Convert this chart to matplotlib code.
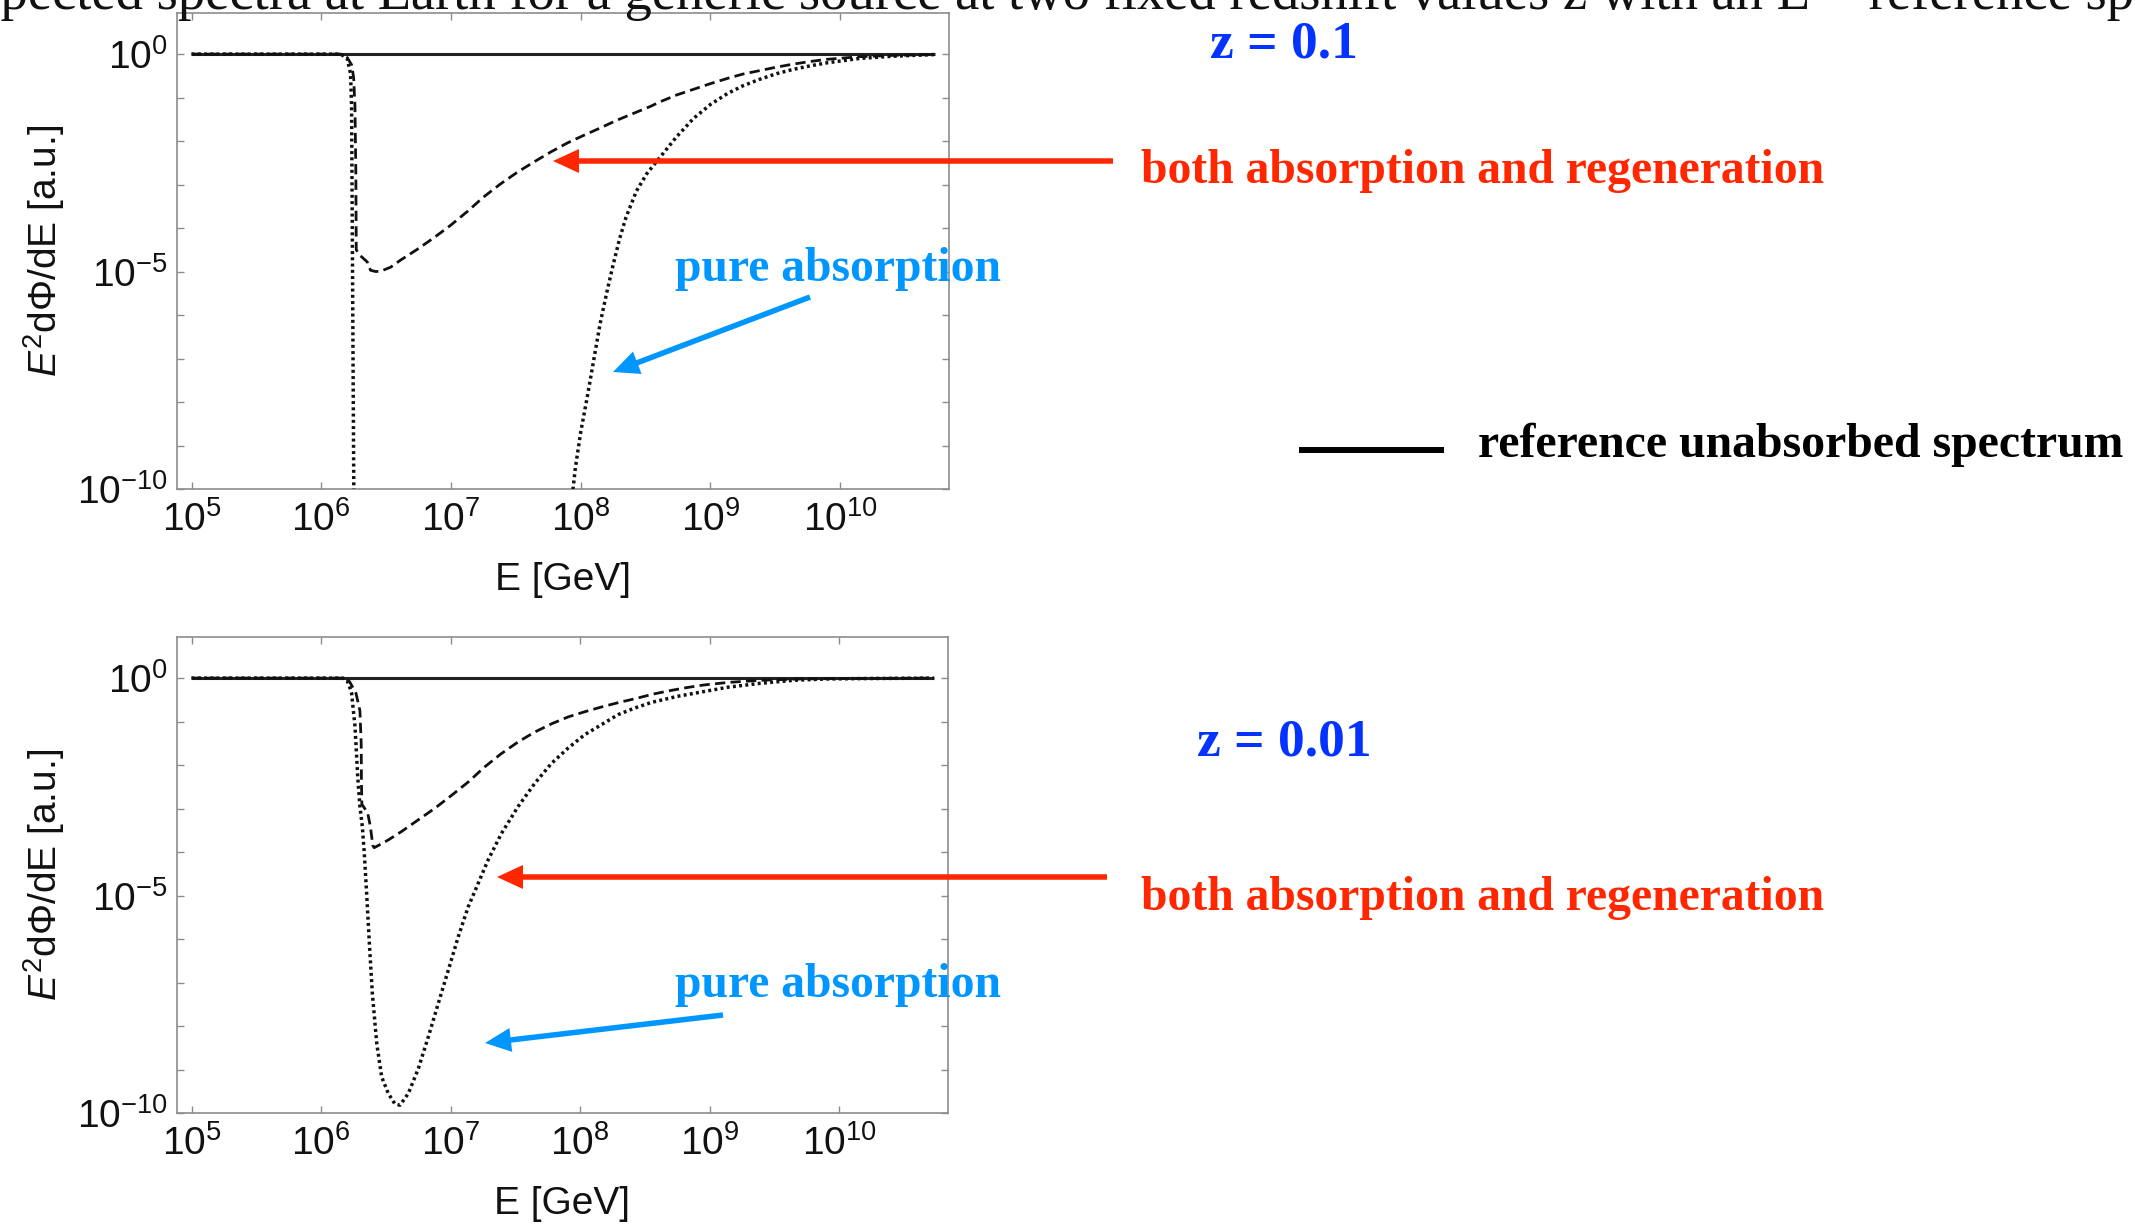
import numpy as np
import matplotlib
matplotlib.use("Agg")
import matplotlib.pyplot as plt
from matplotlib.patches import FancyArrow
from matplotlib.ticker import FixedLocator, NullFormatter, LogFormatterSciNotation, NullLocator

plt.rcParams['font.family'] = ['Liberation Sans', 'DejaVu Sans']
plt.rcParams['mathtext.fontset'] = 'custom'
plt.rcParams['mathtext.rm'] = 'Liberation Sans'
plt.rcParams['mathtext.it'] = 'Liberation Sans:italic'
plt.rcParams['mathtext.bf'] = 'Liberation Sans:bold'

nan = np.nan

# ---------------- data (log10 E [GeV], log10 E^2 dPhi/dE) ----------------
ref_logE = [5.0, 10.73]
ref_logF = [0.0, 0.0]

# z = 0.1 : both absorption and regeneration (dashed)
z01_regen_logE = [5.0, 6.15, 6.20, 6.235, 6.25, 6.26, 6.267, 6.27, 6.30, 6.355, 6.38, 6.42,
                  6.46, 6.535, 6.61, 6.74, 6.87, 7.0, 7.13, 7.25, 7.38, 7.51, 7.64, 7.77,
                  7.90, 8.03, 8.15, 8.28, 8.41, 8.54, 8.61, 8.74, 8.87, 9.0, 9.13, 9.25,
                  9.38, 9.51, 9.64, 9.77, 9.9, 10.15, 10.4, 10.73]
z01_regen_logF = [0.0, 0.0, -0.08, -0.25, -0.55, -1.2, -2.75, -4.5, -4.63, -4.78, -4.97, -5.0,
                  -4.99, -4.9, -4.74, -4.49, -4.22, -3.93, -3.61, -3.29, -2.99, -2.72, -2.48, -2.25,
                  -2.04, -1.86, -1.70, -1.52, -1.36, -1.2, -1.10, -0.94, -0.81, -0.68, -0.56, -0.46,
                  -0.38, -0.30, -0.23, -0.17, -0.12, -0.06, -0.03, -0.01]

# z = 0.1 : pure absorption (dotted)
z01_abs_logE = [5.0, 6.15, 6.20, 6.226, 6.234, 6.24, 6.252, nan,
                7.93, 7.96, 8.0, 8.05, 8.10, 8.15, 8.20, 8.25, 8.30, 8.35, 8.43, 8.51,
                8.61, 8.74, 8.87, 9.0, 9.13, 9.25, 9.38, 9.51, 9.64, 9.77, 9.9, 10.15,
                10.4, 10.73]
z01_abs_logF = [0.0, 0.0, -0.1, -0.45, -1.2, -4.3, -10.5, nan,
                -10.3, -9.5, -8.7, -7.9, -7.05, -6.2, -5.5, -4.85, -4.25, -3.75, -3.15, -2.75,
                -2.38, -1.9, -1.48, -1.16, -0.91, -0.73, -0.58, -0.45, -0.35, -0.27, -0.2, -0.1,
                -0.05, -0.01]

# z = 0.01 : both absorption and regeneration (dashed)
z001_regen_logE = [5.0, 6.17, 6.22, 6.27, 6.30, 6.31, 6.312, 6.315, 6.36, 6.38, 6.40, 6.41,
                   6.46, 6.52, 6.62, 6.75, 6.88, 7.01, 7.14, 7.26, 7.39, 7.52, 7.65, 7.78,
                   7.91, 8.04, 8.17, 8.30, 8.43, 8.56, 8.69, 8.82, 8.95, 9.14, 9.39, 9.7,
                   10.0, 10.73]
z001_regen_logF = [0.0, 0.0, -0.08, -0.35, -0.75, -1.5, -2.4, -2.9, -3.1, -3.4, -3.85, -3.9,
                   -3.82, -3.72, -3.53, -3.26, -2.99, -2.69, -2.38, -2.05, -1.74, -1.47, -1.24, -1.05,
                   -0.89, -0.77, -0.66, -0.56, -0.47, -0.37, -0.29, -0.22, -0.16, -0.1, -0.05, -0.02,
                   -0.01, 0.0]

# z = 0.01 : pure absorption (dotted)
z001_abs_logE = [5.0, 6.17, 6.21, 6.236, 6.262, 6.283, 6.30, 6.319, 6.334, 6.352, 6.373, 6.396,
                 6.43, 6.468, 6.519, 6.57, 6.609, 6.674, 6.751, 6.828, 6.905, 6.982, 7.059, 7.136,
                 7.213, 7.29, 7.393, 7.522, 7.65, 7.779, 7.907, 8.036, 8.165, 8.293, 8.42, 8.55,
                 8.75, 8.88, 9.14, 9.39, 9.65, 9.9, 10.2, 10.73]
z001_abs_logF = [0.0, 0.0, -0.1, -0.35, -1.11, -2.26, -2.95, -3.42, -4.03, -4.95, -6.1, -7.25,
                 -8.4, -9.17, -9.55, -9.79, -9.82, -9.55, -8.98, -8.25, -7.48, -6.72, -5.95, -5.26,
                 -4.72, -4.18, -3.57, -2.95, -2.42, -1.96, -1.61, -1.30, -1.07, -0.84, -0.69, -0.56,
                 -0.42, -0.35, -0.21, -0.12, -0.05, -0.02, -0.01, 0.0]

x_ticks = [1e5, 1e6, 1e7, 1e8, 1e9, 1e10]
y_major = [1e-10, 1e-5, 1e0]
y_minor = [10.0 ** k for k in range(-10, 1)]

# ---------------- figure ----------------
W, H = 2135, 1224
fig = plt.figure(figsize=(W / 100, H / 100), dpi=100)

def px_axes(l, t, r, b):
    return [l / W, 1 - b / H, (r - l) / W, (b - t) / H]

spine_c = '#8c8c8c'
line_c = '#111111'

def panel(rect, regen, absorb):
    ax = fig.add_axes(rect)
    ax.set_xscale('log')
    ax.set_yscale('log')
    ax.plot(10 ** np.array(ref_logE), 10 ** np.array(ref_logF), color='#222222', lw=2.2,
            solid_capstyle='butt', zorder=2)
    ax.plot(10 ** np.array(regen[0]), 10 ** np.array(regen[1]), color=line_c, lw=2.0,
            dashes=(3.7, 1.9), zorder=3)
    ax.plot(10 ** np.array(absorb[0]), 10 ** np.array(absorb[1]), color=line_c, lw=2.5,
            dashes=(0.85, 0.95), zorder=3)
    ax.set_xlim(10 ** 4.888, 10 ** 10.84)
    ax.set_ylim(1e-10, 10 ** 0.945)
    ax.xaxis.set_major_locator(FixedLocator(x_ticks))
    ax.xaxis.set_minor_locator(NullLocator())
    ax.xaxis.set_major_formatter(LogFormatterSciNotation())
    ax.yaxis.set_major_locator(FixedLocator(y_major))
    ax.yaxis.set_minor_locator(FixedLocator(y_minor))
    ax.yaxis.set_major_formatter(LogFormatterSciNotation())
    ax.yaxis.set_minor_formatter(NullFormatter())
    ax.tick_params(which='both', direction='in', length=5, width=1, color=spine_c,
                   top=True, right=True, labelsize=28, labelcolor='#111111')
    ax.tick_params(axis='x', pad=9)
    ax.tick_params(axis='y', pad=7)
    for s in ax.spines.values():
        s.set_color(spine_c)
        s.set_linewidth(1.2)
    ax.set_xlabel('E [GeV]', fontsize=28, color='#111111', va='top')
    ax.xaxis.set_label_coords(0.5, -0.153)
    ax.set_ylabel(r'$E^2$d$\mathit{Φ}$/dE [a.u.]', fontsize=28, color='#111111')
    ax.yaxis.set_label_coords(-0.143, 0.5)
    return ax

ax1 = panel(px_axes(177, 13, 949, 489), (z01_regen_logE, z01_regen_logF),
            (z01_abs_logE, z01_abs_logF))
ax2 = panel(px_axes(177, 637, 948, 1113), (z001_regen_logE, z001_regen_logF),
            (z001_abs_logE, z001_abs_logF))

# ---------------- overlay annotations (pixel coordinates) ----------------
ov = fig.add_axes([0, 0, 1, 1], zorder=10)
ov.set_xlim(0, W)
ov.set_ylim(H, 0)
ov.axis('off')

serif = ['Liberation Serif', 'DejaVu Serif']
blue = '#0433FF'
red = '#FF2600'
aqua = '#0096FF'

# clipped title line at the very top (cut off in the reference as well)
title_txt = 'Expected spectra at Earth for a generic source at two fixed redshift values z with an E\u207b\u00b2 reference spectrum'
title_fs = 39.3
r = fig.canvas.get_renderer()
tmp = ov.text(0, 0, 'Ex', fontsize=title_fs, family=serif)
w_ex = tmp.get_window_extent(r).width
tmp.remove()
ov.text(0 - w_ex, 9, title_txt, fontsize=title_fs, family=serif, color='#111111',
        ha='left', va='baseline', clip_on=False)

ov.text(1210, 57, 'z = 0.1', fontsize=38.5, family=serif, weight='bold', color=blue,
        ha='left', va='baseline')
ov.text(1197, 756, 'z = 0.01', fontsize=38.5, family=serif, weight='bold', color=blue,
        ha='left', va='baseline')

for yb in (183, 910):
    ov.text(1141, yb, 'both absorption and regeneration', fontsize=34.3, family=serif,
            weight='bold', color=red, ha='left', va='baseline')
for yb in (281, 997):
    ov.text(675, yb, 'pure absorption', fontsize=34.3, family=serif, weight='bold',
            color=aqua, ha='left', va='baseline')
ov.text(1478, 457, 'reference unabsorbed spectrum', fontsize=34.4, family=serif,
        weight='bold', color='black', ha='left', va='baseline')
ov.plot([1299, 1444], [450, 450], color='black', lw=4.3, solid_capstyle='butt')

def arrow(x0, y0, x1, y1, color, w, hw, hl):
    ov.add_patch(FancyArrow(x0, y0, x1 - x0, y1 - y0, width=w, head_width=hw,
                            head_length=hl, length_includes_head=True, color=color, lw=0))

arrow(1113, 161, 553, 161, red, 5.5, 24, 26)
arrow(1107, 877, 497, 877, red, 5.5, 24, 26)
arrow(810, 297, 613, 372, aqua, 5.5, 24, 26)
arrow(723, 1015, 485, 1043, aqua, 5.5, 24, 26)

fig.savefig('out.png', dpi=100)
